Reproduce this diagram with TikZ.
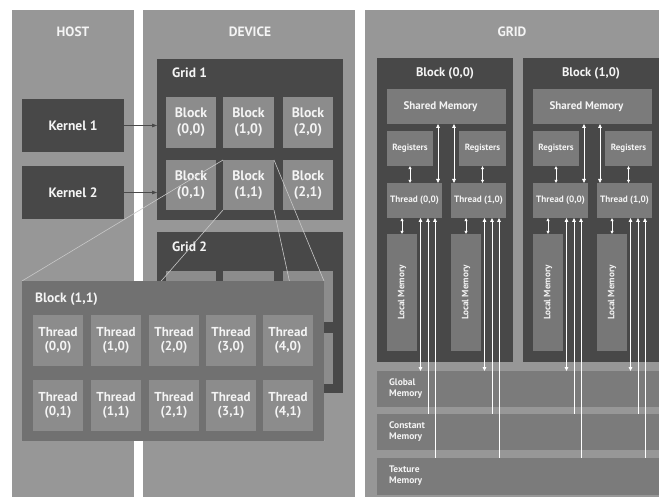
\documentclass[tikz,border=0pt]{standalone}
\usepackage{fontspec}
\setmainfont{PT Sans}
\usetikzlibrary{arrows.meta,calc}
\definecolor{panel}{HTML}{979797}
\definecolor{dark}{HTML}{484848}
\definecolor{lblock}{HTML}{8C8C8C}
\definecolor{bpanel}{HTML}{717171}
\definecolor{mbox}{HTML}{7B7B7B}
\definecolor{lmem}{HTML}{777777}
\definecolor{conn}{HTML}{C8C8C8}
\definecolor{txt}{HTML}{F4F4F4}
\definecolor{karr}{HTML}{4A4A4A}
\newcommand\mybox[7]{\node[#1,minimum width={(#5)-(#3)},minimum height={(#6)-(#4)}] (#2) at ({((#3)+(#5))/2},{((#4)+(#6))/2}) {#7};}
\tikzset{
  bx/.style={inner sep=0pt, outer sep=0pt, align=center, text=txt, font=\bfseries},
  pnl/.style={bx, fill=panel},
  drk/.style={bx, fill=dark},
  lbl/.style={bx, fill=lblock, font=\bfseries\fontsize{13.8}{16}\selectfont},
  bpn/.style={bx, fill=bpanel},
  thr/.style={bx, fill=lblock, font=\bfseries\fontsize{13}{14.5}\selectfont},
  mb/.style={bx, fill=mbox},
  ttl/.style={text=txt, inner sep=0pt, font=\bfseries\fontsize{13.5}{15}\selectfont},
  karrow/.style={draw=karr, line width=0.8pt, -{Triangle[length=5pt,width=3.5pt]}},
  cline/.style={draw=conn, line width=0.6pt},
  wd/.style={draw=white, line width=0.8pt, {Triangle[length=4pt,width=3.6pt]}-{Triangle[length=4pt,width=3.6pt]}},
  ws/.style={draw=white, line width=0.7pt, {Triangle[length=3.2pt,width=3pt]}-{Triangle[length=3.2pt,width=3pt]}},
  wu/.style={draw=white, line width=0.8pt, {Triangle[length=4pt,width=3.6pt]}-},
}
\begin{document}
\begin{tikzpicture}[x=1pt,y=-1pt]
\useasboundingbox (0,0) rectangle (659,497);
% panels
\mybox{pnl}{host}{12}{10}{134}{497}{}
\mybox{pnl}{dev}{143}{10}{355}{497}{}
\mybox{pnl}{grid}{365}{10}{659}{497}{}
\node[ttl] (hostl) at (73,32) {HOST};
\node[ttl] (devl) at (250,32) {DEVICE};
\node[ttl] (gridl) at (512,32) {GRID};
% kernels
\mybox{drk, font=\bfseries\fontsize{13.6}{15}\selectfont}{k1}{22}{99}{124}{152}{Kernel 1}
\mybox{drk, font=\bfseries\fontsize{13.6}{15}\selectfont}{k2}{22}{166}{124}{219}{Kernel 2}
% grid 1
\mybox{drk}{g1}{157}{59}{343}{220}{}
\node[ttl, anchor=west] (g1l) at (172,73) {Grid 1};
\mybox{lbl}{b00}{166}{97}{216}{148}{Block\\(0,0)}
\mybox{lbl}{b10}{223}{97}{274}{148}{Block\\(1,0)}
\mybox{lbl}{b20}{283}{97}{333}{148}{Block\\(2,0)}
\mybox{lbl}{b01}{166}{160}{216}{210}{Block\\(0,1)}
\mybox{lbl}{b11}{223}{160}{274}{210}{Block\\(1,1)}
\mybox{lbl}{b21}{283}{160}{333}{210}{Block\\(2,1)}
% grid 2
\mybox{drk}{g2}{157}{232}{343}{393}{}
\node[ttl, anchor=west] (g2l) at (172,247) {Grid 2};
\mybox{lbl}{c00}{166}{271}{216}{322}{}
\mybox{lbl}{c10}{223}{271}{274}{322}{}
\mybox{lbl}{c20}{283}{271}{333}{322}{}
\mybox{lbl}{c01}{166}{333}{216}{384}{}
\mybox{lbl}{c11}{223}{333}{274}{384}{}
\mybox{lbl}{c21}{283}{333}{333}{384}{}
% kernel arrows
\draw[karrow] (k1.east) -- (k1.east -| g1.west);
\draw[karrow] (k2.east) -- (k2.east -| g1.west);
% zoom panel corners (coordinates for connectors)
\coordinate (pnw) at (22,281);
\coordinate (pne) at (324,281);
\coordinate (psw) at (22,441);
\coordinate (pse) at (324,441);
\draw[cline] (b11.north west) -- (pnw);
\draw[cline] (b11.south west) -- (psw);
\draw[cline] (b11.north east) -- (pne);
\draw[cline] (b11.south east) -- (pse);
% block (1,1) panel
\mybox{bpn}{bp}{22}{281}{324}{441}{}
\node[ttl, anchor=west] (bpl) at (35,299) {Block (1,1)};
\foreach \i/\xa in {0/33,1/91,2/149,3/206,4/263}{
  \mybox{thr}{ta\i}{\xa}{315}{\xa+50}{366}{Thread\\(\i,0)}
  \mybox{thr}{tb\i}{\xa}{380}{\xa+50}{431}{Thread\\(\i,1)}
}
% right grid
\mybox{mb}{gm}{377}{371}{659}{407}{}
\mybox{mb}{cm}{377}{414}{659}{450}{}
\mybox{mb}{tm}{377}{458}{659}{495}{}
\node[text=txt, anchor=west, align=left, inner sep=0pt, font=\bfseries\fontsize{9.5}{11}\selectfont] (gml) at (389,389) {Global\\Memory};
\node[text=txt, anchor=west, align=left, inner sep=0pt, font=\bfseries\fontsize{9.5}{11}\selectfont] (cml) at (389,432) {Constant\\Memory};
\node[text=txt, anchor=west, align=left, inner sep=0pt, font=\bfseries\fontsize{9.5}{11}\selectfont] (tml) at (389,476) {Texture\\Memory};
\foreach \o/\n/\k/\r in {0/a/0/513,146/b/1/659}{
  \mybox{drk}{blk\n}{377+\o}{58}{\r}{362}{}
  \node[ttl, font=\bfseries\fontsize{12.5}{14}\selectfont] (blk\n l) at (445+\o,73) {Block (\k,0)};
  \mybox{mb, font=\bfseries\fontsize{11}{12}\selectfont}{sm\n}{387+\o}{89}{506+\o}{124}{Shared Memory\hspace*{12pt}}
  \mybox{mb, font=\bfseries\fontsize{9}{10}\selectfont}{rl\n}{387+\o}{131}{433+\o}{166}{Registers}
  \mybox{mb, font=\bfseries\fontsize{9}{10}\selectfont}{rr\n}{459+\o}{131}{506+\o}{166}{Registers}
  \mybox{mb, font=\bfseries\fontsize{9.2}{10}\selectfont}{t0\n}{387+\o}{183}{442+\o}{218}{Thread (0,0)}
  \mybox{mb, font=\bfseries\fontsize{9.2}{10}\selectfont}{t1\n}{451+\o}{183}{506+\o}{218}{Thread (1,0)}
  \mybox{bx, fill=lmem}{l0\n}{387+\o}{234}{417+\o}{351}{}
  \mybox{bx, fill=lmem}{l1\n}{451+\o}{234}{481+\o}{351}{}
  \node[rotate=90, text=txt, inner sep=0pt, font=\bfseries\fontsize{9.2}{10}\selectfont] (l0\n t) at (l0\n) {Local Memory};
  \node[rotate=90, text=txt, inner sep=0pt, font=\bfseries\fontsize{9.2}{10}\selectfont] (l1\n t) at (l1\n) {Local Memory};
  % arrows
  \draw[ws] (rl\n.south) -- (rl\n.south |- t0\n.north);
  \draw[ws] (rr\n.south) -- (rr\n.south |- t1\n.north);
  \draw[wd] ($(t0\n.north east)+(-4,0)$) -- ($(t0\n.north east |- sm\n.south)+(-4,0)$);
  \draw[wd] ($(t1\n.north west)+(3,0)$) -- ($(t1\n.north west |- sm\n.south)+(3,0)$);
  \draw[ws] (l0\n.north |- t0\n.south) -- (l0\n.north);
  \draw[ws] (l1\n.north |- t1\n.south) -- (l1\n.north);
  \draw[wd] ($(t0\n.south)+(6,0)$) -- ($(t0\n.south |- gm.north)+(6,0)$);
  \draw[wu] ($(t0\n.south)+(13.5,0)$) -- ($(t0\n.south |- cm.north)+(13.5,0)$);
  \draw[wu] ($(t0\n.south)+(20.5,0)$) -- ($(t0\n.south |- tm.north)+(20.5,0)$);
  \draw[wd] ($(t1\n.south)+(6,0)$) -- ($(t1\n.south |- gm.north)+(6,0)$);
  \draw[wu] ($(t1\n.south)+(13.5,0)$) -- ($(t1\n.south |- cm.north)+(13.5,0)$);
  \draw[wu] ($(t1\n.south)+(20.5,0)$) -- ($(t1\n.south |- tm.north)+(20.5,0)$);
}
\end{tikzpicture}
\end{document}
